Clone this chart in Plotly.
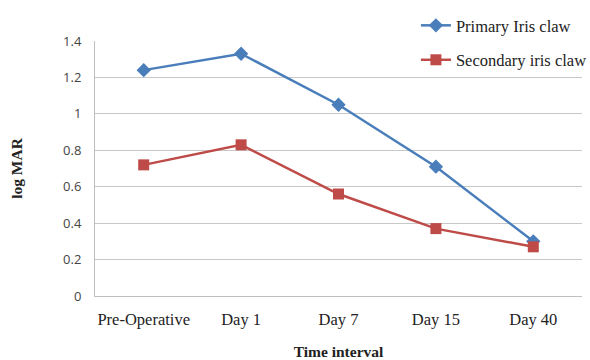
import plotly.graph_objects as go

# Visual acuity (log MAR) over follow-up time
time_points = ["Pre-Operative", "Day 1", "Day 7", "Day 15", "Day 40"]
primary_iris_claw = [1.24, 1.33, 1.05, 0.71, 0.30]
secondary_iris_claw = [0.72, 0.83, 0.56, 0.37, 0.27]
y_ticks = [0, 0.2, 0.4, 0.6, 0.8, 1.0, 1.2, 1.4]
y_tick_text = ["0", "0.2", "0.4", "0.6", "0.8", "1", "1.2", "1.4"]

BLUE = "#4a7ebb"
RED = "#be4b48"

fig = go.Figure()
fig.add_trace(go.Scatter(
    x=time_points, y=primary_iris_claw, name="Primary Iris claw",
    mode="lines+markers", legendgroup="p",
    line=dict(color=BLUE, width=2.5),
    marker=dict(symbol="diamond", size=11, color=BLUE),
))
fig.add_trace(go.Scatter(
    x=time_points, y=secondary_iris_claw, name="Secondary iris claw",
    mode="lines+markers", legendgroup="s",
    line=dict(color=RED, width=2.5),
    marker=dict(symbol="square", size=11, color=RED),
))

fig.update_layout(
    width=590, height=360,
    margin=dict(l=95, r=8, t=41, b=64, autoexpand=False),
    paper_bgcolor="white", plot_bgcolor="white",
    showlegend=True,
    legend=dict(
        x=0.659, y=1.129, xanchor="left", yanchor="top",
        bgcolor="rgba(255,255,255,0)",
        font=dict(family="Liberation Serif", size=16.5, color="#222"),
        traceorder="grouped", tracegroupgap=10,
        itemwidth=30,
    ),
    xaxis=dict(
        type="category", range=[-0.5, 4.5], automargin=False, tickangle=0,
        showline=True, linecolor="#bfbfbf", linewidth=1,
        ticks="", showgrid=False, ticklabelstandoff=8,
        tickfont=dict(family="Liberation Serif", size=16.5, color="#222"),
        title=dict(text="<b>Time interval</b>", standoff=22,
                   font=dict(family="Liberation Serif", size=15.5, color="#222")),
    ),
    yaxis=dict(
        range=[0, 1.4], tickvals=y_ticks, ticktext=y_tick_text, automargin=False,
        showline=True, linecolor="#bfbfbf", linewidth=1,
        showgrid=True, gridcolor="#c8c8c8", gridwidth=1,
        ticks="", zeroline=False, ticklabelstandoff=10,
        tickfont=dict(family="Open Sans", size=13, color="#444"),
        title=dict(text="<b>log MAR</b>", standoff=36,
                   font=dict(family="Liberation Serif", size=15.5, color="#222")),
    ),
)

fig.write_html("out.html")
